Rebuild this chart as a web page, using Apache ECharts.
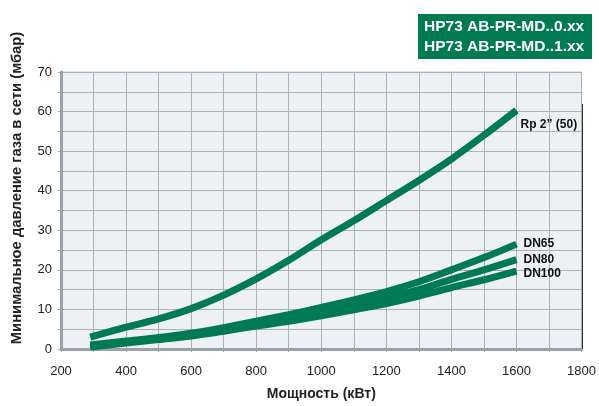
<!DOCTYPE html>
<html><head><meta charset="utf-8">
<script src="https://cdn.jsdelivr.net/npm/echarts@6/dist/echarts.min.js"></script>
<style>html,body{margin:0;padding:0;background:#fff}#c{width:599px;height:406px}</style>
</head><body><div id="c"></div>
<script>
const titleLines = ['HP73 AB-PR-MD..0.xx', 'HP73 AB-PR-MD..1.xx'];
const xName = 'Мощность (кВт)';
const yName = 'Минимальное давление газа в сети (мбар)';
const xTicks = [200, 400, 600, 800, 1000, 1200, 1400, 1600, 1800];
const yTicks = [0, 10, 20, 30, 40, 50, 60, 70];
const seriesNames = ['Rp 2” (50)', 'DN65', 'DN80', 'DN100'];
const power = [290, 400, 500, 600, 700, 800, 900, 1000, 1100, 1200, 1300, 1400, 1500, 1600];
const rp2   = [3, 5.5, 7.6, 10.2, 13.6, 17.7, 22.4, 27.6, 32.4, 37.5, 42.6, 48, 54, 60.3];
const dn65  = [1, 2, 2.9, 4, 5.4, 7, 8.7, 10.5, 12.4, 14.5, 17, 20, 23.1, 26.5];
const dn80  = [0.8, 1.8, 2.7, 3.7, 5, 6.5, 8, 9.6, 11.2, 13, 15, 17.6, 20, 22.6];
const dn100 = [0.5, 1.5, 2.4, 3.3, 4.5, 5.8, 7, 8.4, 9.9, 11.5, 13.4, 15.5, 17.5, 19.7];

const green = '#007a52';
const pair = (arr) => power.map((p, i) => [p, arr[i]]);
const values = [rp2, dn65, dn80, dn100];
const labelOffsets = [[0, 14], [3, 0], [3, 0], [3, 3]];

const chart = echarts.init(document.getElementById('c'), null, {renderer: 'canvas'});
const gridLine = {show: true, lineStyle: {color: '#a9b2b9', width: 1}};
chart.setOption({
  animation: false,
  grid: {left: 61, right: 16, top: 72, bottom: 54, show: true, backgroundColor: '#edf1f4', borderColor: '#c3cbd1', borderWidth: 1},
  xAxis: {
    type: 'value', min: xTicks[0], max: xTicks[xTicks.length - 1], interval: 100,
    name: xName, nameLocation: 'middle', nameGap: 38,
    nameTextStyle: {fontFamily: 'Liberation Sans', fontWeight: 'bold', fontSize: 14, color: '#222'},
    axisLine: {show: true, lineStyle: {color: '#98a3ab', width: 3}},
    axisTick: {show: true, length: 3, lineStyle: {color: '#98a3ab'}},
    axisLabel: {margin: 16, fontFamily: 'Liberation Sans', fontSize: 13, color: '#222',
      formatter: (v) => xTicks.includes(v) ? String(v) : ''},
    splitLine: gridLine
  },
  yAxis: {
    type: 'value', min: yTicks[0], max: yTicks[yTicks.length - 1], interval: 5,
    axisLine: {show: true, lineStyle: {color: '#98a3ab', width: 3}},
    axisTick: {show: true, length: 3, lineStyle: {color: '#98a3ab'}},
    axisLabel: {margin: 9, fontFamily: 'Liberation Sans', fontSize: 13, color: '#222',
      formatter: (v) => yTicks.includes(v) ? String(v) : ''},
    splitLine: gridLine
  },
  series: values.map((v, i) => ({
    type: 'line', name: seriesNames[i], data: pair(v), smooth: 0.3, showSymbol: false,
    lineStyle: {color: green, width: 7, cap: 'butt'},
    endLabel: {show: true, formatter: seriesNames[i], offset: labelOffsets[i],
      fontFamily: 'Liberation Sans', fontWeight: 'bold', fontSize: 12, color: '#111', distance: 4}
  })),
  graphic: [
    {type: 'rect', left: 418, top: 14, shape: {width: 174, height: 45}, style: {fill: green}},
    {type: 'text', left: 424, top: 19, style: {text: titleLines[0], fill: '#fff', font: 'bold 15.5px "Liberation Sans"'}},
    {type: 'text', left: 424, top: 39, style: {text: titleLines[1], fill: '#fff', font: 'bold 15.5px "Liberation Sans"'}},
    {type: 'text', x: 17, y: 188, rotation: Math.PI / 2,
      style: {text: yName, fill: '#222', font: 'bold 14.8px "Liberation Sans"', align: 'center', verticalAlign: 'middle'}},
    {type: 'line', shape: {x1: 582.5, y1: 104, x2: 582.5, y2: 350}, style: {stroke: '#333', lineWidth: 1}}
  ]
});
</script></body></html>
